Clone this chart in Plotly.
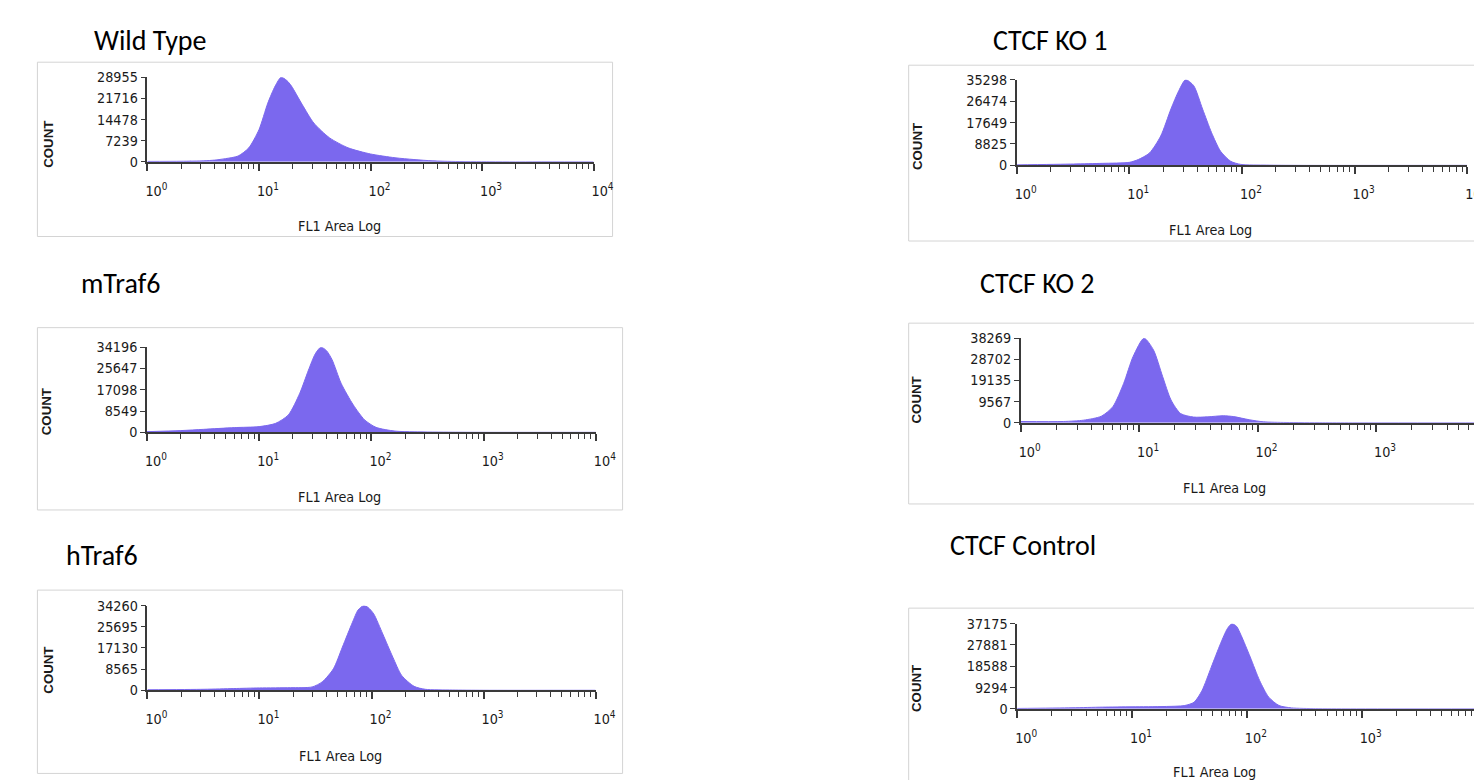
import plotly.graph_objects as go

# ---------------- data ----------------
TITLES = ["Wild Type", "mTraf6", "hTraf6", "CTCF KO 1", "CTCF KO 2", "CTCF Control"]

WT_FL1 = [1, 2, 3.2, 4, 5, 6.5, 8.1, 10, 12, 14, 15.8, 17.8, 19.5, 24.5, 31, 43, 63, 100, 166, 245, 363, 537, 1175, 2000, 10000]
WT_COUNT = [150, 200, 350, 600, 1100, 2000, 4800, 11000, 20100, 26000, 28955, 27800, 26000, 19500, 13300, 8200, 4800, 2700, 1400, 800, 340, 150, 50, 0, 0]
WT_YTICKS = [0, 7239, 14478, 21716, 28955]

M_FL1 = [1, 2, 3.2, 6, 10, 14, 18.2, 23, 27.5, 31.6, 35.5, 39.8, 44.7, 53.7, 69, 87, 110, 162, 240, 525, 1000, 10000]
M_COUNT = [270, 700, 1200, 1900, 2300, 3600, 7000, 15700, 25000, 31500, 34196, 32800, 29100, 19700, 11000, 5000, 2000, 500, 200, 50, 0, 0]
M_YTICKS = [0, 8549, 17098, 25647, 34196]

H_FL1 = [1, 3.2, 5.9, 10, 19, 29.5, 36.3, 45.7, 55, 67.6, 75.9, 85, 93.3, 104.7, 126, 155, 186, 240, 302, 525, 1000, 10000]
H_COUNT = [200, 400, 700, 950, 1050, 1350, 3400, 8700, 17500, 27500, 32500, 34260, 33500, 30900, 22800, 13400, 6000, 1600, 400, 100, 0, 0]
H_YTICKS = [0, 8565, 17130, 25695, 34260]

K1_FL1 = [1, 3.2, 5.75, 10, 12, 15.1, 19, 23.4, 27.5, 31.6, 37.2, 44.7, 53.7, 64.6, 79.4, 97.7, 166, 316, 10000]
K1_COUNT = [200, 550, 830, 1250, 2400, 5100, 12100, 23200, 30800, 35298, 32900, 23200, 13500, 5800, 1700, 400, 100, 0, 0]
K1_YTICKS = [0, 8825, 17649, 26474, 35298]

K2_FL1 = [1, 2.3, 3.4, 4.8, 6, 7.4, 8.9, 11, 13.2, 15.8, 18.6, 22.4, 28.8, 38, 51.3, 63, 85, 112, 174, 355, 630, 10000]
K2_COUNT = [600, 600, 1200, 3000, 7300, 17800, 30000, 38269, 33000, 20900, 10300, 4200, 2600, 2700, 3200, 2800, 1400, 450, 150, 50, 0, 0]
K2_YTICKS = [0, 9567, 19135, 28702, 38269]

C_FL1 = [1, 3, 5.5, 10, 19, 28.8, 34.7, 40.7, 49, 58.9, 67.6, 74.1, 81.3, 89.1, 107, 129, 155, 190.5, 245, 398, 794, 10000]
C_COUNT = [150, 440, 730, 870, 1000, 1450, 2900, 8000, 18200, 28400, 35000, 37175, 36000, 32100, 22600, 12400, 5100, 1450, 400, 80, 0, 0]
C_YTICKS = [0, 9294, 18588, 27881, 37175]

X_TICK_VALUES = [1, 10, 100, 1000, 10000]
X_TICK_LABELS = ["10<sup>0</sup>", "10<sup>1</sup>", "10<sup>2</sup>", "10<sup>3</sup>", "10<sup>4</sup>"]
X_MINOR_VALUES = [m * 10 ** d for d in range(4) for m in range(2, 10)]
X_TITLE = "FL1 Area Log"
Y_TITLE = "COUNT"

SERIES = [(WT_FL1, WT_COUNT, WT_YTICKS), (M_FL1, M_COUNT, M_YTICKS), (H_FL1, H_COUNT, H_YTICKS),
          (K1_FL1, K1_COUNT, K1_YTICKS), (K2_FL1, K2_COUNT, K2_YTICKS), (C_FL1, C_COUNT, C_YTICKS)]

# ---------------- layout geometry (target pixels in the 1474x780 picture) ----------------
RW, RH = 1474, 780
# page size and mapping picture -> page (compensates the photographer's resampling)
AX, BX, AY, BY = 1.6, 0.985, 8.9, 0.978
W = round((RW - AX) / BX)
H = round((RH - AY) / BY)
S = 1 / ((BX + BY) / 2)

GEOM = [
    dict(x0=147, dec=111.5, base=162.5, top=78, frame=(37, 63, 612, 237), title=(92, 41), count=(48, 145), xlab=227),
    dict(x0=146.5, dec=112.2, base=432.5, top=347.5, frame=(37, 328, 622, 510), title=(79, 284), count=(46, 412), xlab=497),
    dict(x0=147, dec=112, base=690, top=605.5, frame=(37, 590, 622, 773), title=(64, 555), count=(48, 670), xlab=756),
    dict(x0=1016, dec=112.6, base=166, top=80.5, frame=(908, 66, None, 241.5), title=(990, 41), count=(917, 147), xlab=231),
    dict(x0=1020, dec=118.4, base=423, top=338.5, frame=(908, 323.5, None, 504), title=(977, 284), count=(916, 400), xlab=488),
    dict(x0=1016.5, dec=114.8, base=708.5, top=623.5, frame=(908, 608, None, None), title=(947, 545), count=(916, 688), xlab=772),
]

def px(x):
    return ((x - AX) / BX) / W

def py(y):
    return 1 - ((y - AY) / BY) / H

FILL = "#7B68EE"
AXC = "#3a3a3a"
FRAMEC = "#d4d4d4"
NARROW = "DejaVu Sans Condensed, Liberation Sans Narrow, Liberation Sans, sans-serif"
TICKFONT = dict(family=NARROW, size=14 * S, color="#1a1a1a")
LABFONT = dict(family=NARROW, size=14 * S, color="#1a1a1a")

fig = go.Figure()
layout = dict(width=W, height=H, margin=dict(l=0, r=0, t=0, b=0),
              paper_bgcolor="white", plot_bgcolor="rgba(0,0,0,0)", showlegend=False)
shapes, annotations = [], []

def seg(x0, y0, x1, y1):
    return dict(type="line", xref="paper", yref="paper", x0=px(x0), x1=px(x1), y0=py(y0), y1=py(y1),
                line=dict(color=FRAMEC, width=1), layer="below")

for i, ((fx, fc, yt), g) in enumerate(zip(SERIES, GEOM)):
    n = "" if i == 0 else str(i + 1)
    xend = min(g["x0"] + 4 * g["dec"], RW)
    rend = (xend - g["x0"]) / g["dec"]
    fig.add_trace(go.Scatter(x=fx, y=fc, mode="lines", fill="tozeroy",
                             line=dict(color=FILL, width=1, shape="spline", smoothing=0.7),
                             fillcolor=FILL, xaxis="x" + n, yaxis="y" + n, hoverinfo="skip"))
    layout["xaxis" + n] = dict(
        type="log", range=[0, rend], domain=[px(g["x0"]), min(px(xend), 1)], anchor="y" + n,
        showgrid=False, zeroline=False, showline=True, linecolor=AXC, linewidth=2,
        tickmode="array", tickvals=X_TICK_VALUES, ticktext=X_TICK_LABELS,
        ticks="outside", ticklen=7, tickwidth=1.5, tickcolor=AXC, tickfont=TICKFONT,
        ticklabelshift=9, ticklabelstandoff=8,
        minor=dict(tickmode="array", tickvals=X_MINOR_VALUES, ticks="outside", ticklen=5,
                   tickwidth=1.2, tickcolor=AXC, showgrid=False),
    )
    layout["yaxis" + n] = dict(
        range=[0, yt[-1]], domain=[py(g["base"]), py(g["top"])], anchor="x" + n,
        showgrid=False, zeroline=False, showline=True, linecolor=AXC, linewidth=1.5,
        tickmode="array", tickvals=yt, ticktext=[str(v) for v in yt],
        ticks="outside", ticklen=5, tickwidth=1.2, tickcolor=AXC, tickfont=TICKFONT,
    )
    fl, ft, fr, fb = g["frame"]
    right = fr if fr is not None else RW + 30
    bottom = fb if fb is not None else RH + 30
    shapes.append(seg(fl, ft, right, ft))
    shapes.append(seg(fl, ft, fl, bottom))
    if fb is not None:
        shapes.append(seg(fl, fb, right, fb))
    if fr is not None:
        shapes.append(seg(fr, ft, fr, fb))
    annotations.append(dict(text=TITLES[i], xref="paper", yref="paper", x=px(g["title"][0]), y=py(g["title"][1]),
                            xanchor="left", yanchor="middle", showarrow=False,
                            font=dict(family="Carlito, Lato, Open Sans, sans-serif", size=27.5 * S, color="#000000")))
    annotations.append(dict(text=Y_TITLE, xref="paper", yref="paper", x=px(g["count"][0]), y=py(g["count"][1]),
                            xanchor="center", yanchor="middle", textangle=-90, showarrow=False,
                            font=dict(family="Liberation Sans, Arial, sans-serif", size=13 * S, color="#1a1a1a", weight="bold")))
    annotations.append(dict(text=X_TITLE, xref="paper", yref="paper", x=px(g["x0"] + 1.72 * g["dec"]), y=py(g["xlab"]),
                            xanchor="center", yanchor="middle", showarrow=False, font=LABFONT))

layout["shapes"] = shapes
layout["annotations"] = annotations
fig.update_layout(**layout)
fig.write_html("out.html", config={"displayModeBar": False},
               post_script="document.body.style.margin='0';document.body.style.overflow='hidden';")
